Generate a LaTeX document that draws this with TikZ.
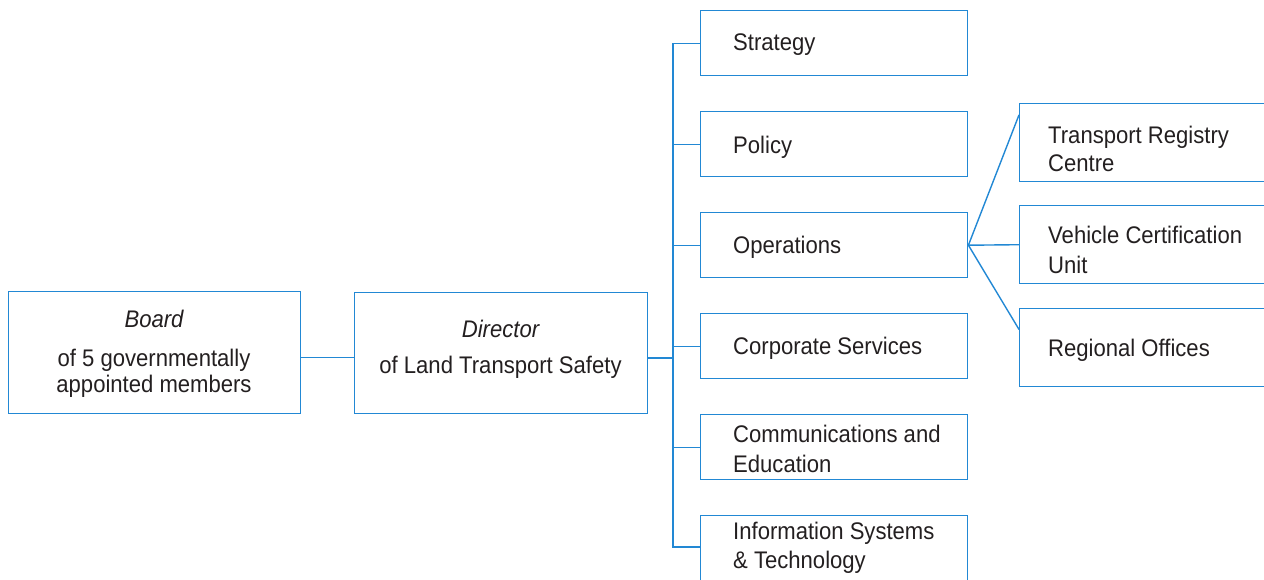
\documentclass[tikz,border=0pt]{standalone}
\usepackage{fontspec}
\setmainfont[FakeStretch=0.92]{Liberation Sans}
\usetikzlibrary{calc}
\definecolor{lineblue}{RGB}{34,136,212}
\definecolor{txt}{RGB}{35,31,32}
\tikzset{
  box/.style={draw=lineblue, line width=1.4pt, rectangle, inner sep=0pt, anchor=north west},
  conn/.style={draw=lineblue, line width=1.4pt},
  lbl/.style={font=\fontsize{24}{29}\selectfont, text=txt, inner sep=0pt, anchor=base west},
  clbl/.style={font=\fontsize{24}{29}\selectfont, text=txt, inner sep=0pt, anchor=base},
}
\begin{document}
\begin{tikzpicture}[x=1pt,y=-1pt]
\useasboundingbox (0,0) rectangle (1264,579);
\clip (0,0) rectangle (1264,579);
% left boxes
\node[box, minimum width=292pt, minimum height=122pt] (board) at (8,291) {};
\node[box, minimum width=293pt, minimum height=121pt] (dir) at (354,292) {};
\node[clbl] (bt1) at (154,327) {\itshape Board};
\node[clbl] (bt2) at (154,366) {of 5 governmentally};
\node[clbl] (bt3) at (154,392) {appointed members};
\node[clbl] (dt1) at (500.5,337) {\itshape Director};
\node[clbl] (dt2) at (500.5,373) {of Land Transport Safety};
% column boxes
\node[box, minimum width=267pt, minimum height=65pt] (s) at (700,10) {};
\node[box, minimum width=267pt, minimum height=65pt] (p) at (700,111) {};
\node[box, minimum width=267pt, minimum height=65pt] (o) at (700,212) {};
\node[box, minimum width=267pt, minimum height=65pt] (c) at (700,313) {};
\node[box, minimum width=267pt, minimum height=65pt] (e) at (700,414) {};
\node[box, minimum width=267pt, minimum height=67pt] (i) at (700,515) {};
\node[lbl] (st) at (733,50.5) {Strategy};
\node[lbl] (pt) at (733,153.5) {Policy};
\node[lbl] (ot) at (733,253) {Operations};
\node[lbl] (ct) at (733,354.5) {Corporate Services};
\node[lbl] (et1) at (733,442.5) {Communications and};
\node[lbl] (et2) at (733,472) {Education};
\node[lbl] (it1) at (733,539) {Information Systems};
\node[lbl] (it2) at (733,568) {\& Technology};
% right boxes
\node[box, minimum width=300pt, minimum height=78pt] (r1) at (1019,103) {};
\node[box, minimum width=300pt, minimum height=78pt] (r2) at (1019,205) {};
\node[box, minimum width=300pt, minimum height=78pt] (r3) at (1019,308) {};
\node[lbl] (r1t1) at (1048,143) {Transport Registry};
\node[lbl] (r1t2) at (1048,171) {Centre};
\node[lbl] (r2t1) at (1048,243) {Vehicle Certification};
\node[lbl] (r2t2) at (1048,273) {Unit};
\node[lbl] (r3t) at (1048,356) {Regional Offices};
% connectors
\coordinate (trunk) at (673,0);
\coordinate (iin) at ($(i.north west)+(0,32)$);
\coordinate (dirout) at ($(dir.north east)!0.54!(dir.south east)$);
\coordinate (boardout) at ($(board.north east)!0.54!(board.south east)$);
\draw[conn] (boardout) -- (boardout -| dir.west);
\draw[conn] (dirout) -- (dirout -| trunk);
\draw[conn] (s.west) -- (s.west -| trunk) -- (iin -| trunk) -- (iin);
\draw[conn] (p.west) -- (p.west -| trunk);
\draw[conn] (o.west) -- (o.west -| trunk);
\draw[conn] (c.west) -- (c.west -| trunk);
\draw[conn] (e.west) -- (e.west -| trunk);
\draw[conn] (o.east) -- ($(r1.north west)!0.15!(r1.south west)$);
\draw[conn] (o.east) -- (r2.west);
\draw[conn] (o.east) -- ($(r3.north west)!0.27!(r3.south west)$);
\end{tikzpicture}
\end{document}
